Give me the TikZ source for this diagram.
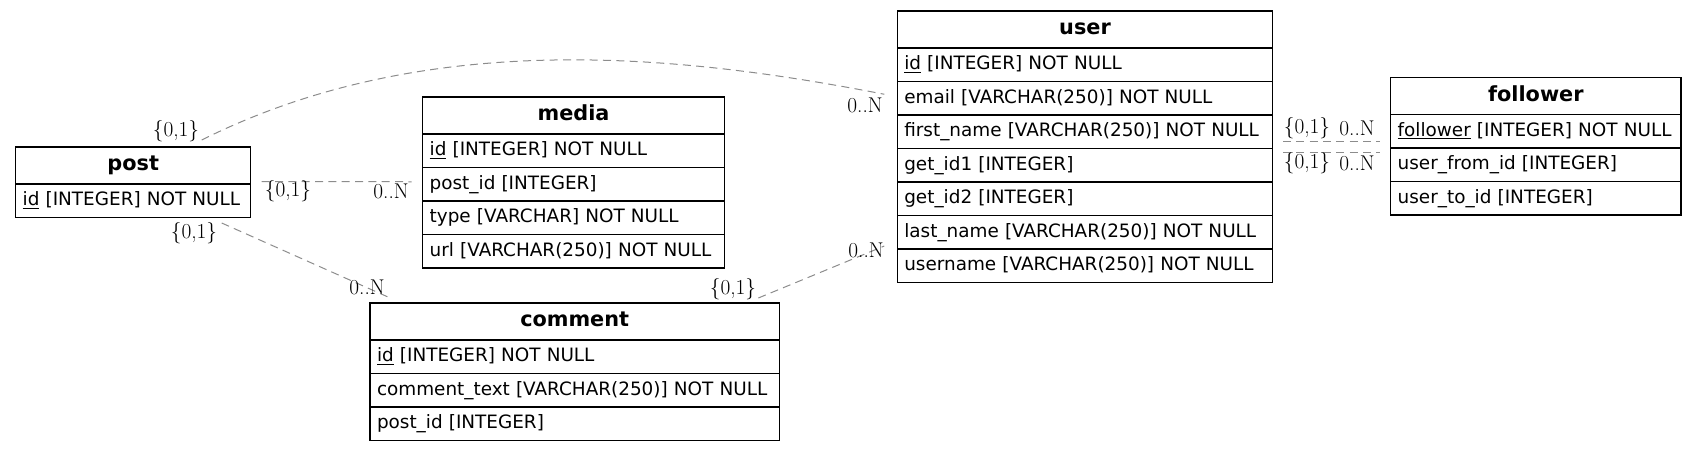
\documentclass[tikz,border=0pt]{standalone}
\usepackage{fontspec}
\newfontfamily\dv{DejaVu Sans}
\usetikzlibrary{calc}
\newcommand\cellt[1]{\mbox{#1}}
\begin{document}
\begin{tikzpicture}[x=0.75pt,y=-0.75pt,
  cell/.style={draw, line width=0.8pt, rectangle, anchor=north west, outer sep=0pt, inner xsep=5.25pt, inner ysep=0pt,
    font=\dv\fontsize{13.8}{16}\selectfont, text height=10.5pt, text depth=3pt},
  hdr/.style={cell, minimum height=27.75pt, align=center, font=\dv\bfseries\fontsize{15.6}{18}\selectfont, text height=11pt},
  fld/.style={cell, minimum height=25.125pt, align=left},
  rel/.style={draw=black!45, line width=0.75pt, dash pattern=on 6pt off 4pt},
  card/.style={font=\fontsize{16}{18}\selectfont, inner sep=0pt},
  wpost/.style={text width=165.75pt},
  wmedia/.style={text width=215.7pt},
  wcomment/.style={text width=296.5pt},
  wuser/.style={text width=271.05pt},
  wfollower/.style={text width=207.2pt}
]
\useasboundingbox (0,0) rectangle (1697,451);

% post
\node[hdr, wpost] (post-h) at (15.7,147) {post};
\node[fld, wpost] (post-1) at (post-h.south west) {\cellt{\underline{id} [INTEGER] NOT NULL}};

% media
\node[hdr, wmedia] (media-h) at (422.7,97) {media};
\node[fld, wmedia] (media-1) at (media-h.south west) {\cellt{\underline{id} [INTEGER] NOT NULL}};
\node[fld, wmedia] (media-2) at (media-1.south west) {\cellt{post\_id [INTEGER]}};
\node[fld, wmedia] (media-3) at (media-2.south west) {\cellt{type [VARCHAR] NOT NULL}};
\node[fld, wmedia] (media-4) at (media-3.south west) {\cellt{url [VARCHAR(250)] NOT NULL}};

% comment
\node[hdr, wcomment] (comment-h) at (370,303) {comment};
\node[fld, wcomment] (comment-1) at (comment-h.south west) {\cellt{\underline{id} [INTEGER] NOT NULL}};
\node[fld, wcomment] (comment-2) at (comment-1.south west) {\cellt{comment\_text [VARCHAR(250)] NOT NULL}};
\node[fld, wcomment] (comment-3) at (comment-2.south west) {\cellt{post\_id [INTEGER]}};

% user
\node[hdr, wuser] (user-h) at (897.3,11) {user};
\node[fld, wuser] (user-1) at (user-h.south west) {\cellt{\underline{id} [INTEGER] NOT NULL}};
\node[fld, wuser] (user-2) at (user-1.south west) {\cellt{email [VARCHAR(250)] NOT NULL}};
\node[fld, wuser] (user-3) at (user-2.south west) {\cellt{first\_name [VARCHAR(250)] NOT NULL}};
\node[fld, wuser] (user-4) at (user-3.south west) {\cellt{get\_id1 [INTEGER]}};
\node[fld, wuser] (user-5) at (user-4.south west) {\cellt{get\_id2 [INTEGER]}};
\node[fld, wuser] (user-6) at (user-5.south west) {\cellt{last\_name [VARCHAR(250)] NOT NULL}};
\node[fld, wuser] (user-7) at (user-6.south west) {\cellt{username [VARCHAR(250)] NOT NULL}};

% follower
\node[hdr, wfollower] (follower-h) at (1390.7,77.5) {follower};
\node[fld, wfollower] (follower-1) at (follower-h.south west) {\cellt{\underline{follower} [INTEGER] NOT NULL}};
\node[fld, wfollower] (follower-2) at (follower-1.south west) {\cellt{user\_from\_id [INTEGER]}};
\node[fld, wfollower] (follower-3) at (follower-2.south west) {\cellt{user\_to\_id [INTEGER]}};

% relations
\draw[rel] ($(post-h.north east)+(-49,-7)$) .. controls (428,27) and (682,55) .. ($(user-2.west)+(-13,-4)$);
\draw[rel] ($(post-h.south east)+(11,-2.5)$) -- ($(media-2.west)+(-11,-2.5)$);
\draw[rel] ($(post-1.south east)+(-29,5.5)$) -- ($(comment-h.north west)+(18,-6)$);
\draw[rel] ($(comment-h.north east)+(-21,-5)$) -- ($(user-7.north west)+(-13,-3)$);
\draw[rel] ($(user-3.south east)+(10.3,-7.5)$) -- ($(follower-1.south west)+(-10.7,-7)$);
\draw[rel] ($(user-4.north east)+(10.3,3.5)$) -- ($(follower-2.north west)+(-10.7,4)$);

% cardinalities
\node[card] (c1) at (176,131) {\{0,1\}};
\node[card] (c2) at (865,105) {0..N};
\node[card] (c3) at (288,191) {\{0,1\}};
\node[card] (c4) at (391,191) {0..N};
\node[card] (c5) at (194,233) {\{0,1\}};
\node[card] (c6) at (367,287) {0..N};
\node[card] (c7) at (733,289) {\{0,1\}};
\node[card] (c8) at (866,250) {0..N};
\node[card] (c9) at (1307,128) {\{0,1\}};
\node[card] (c10) at (1357,128) {0..N};
\node[card] (c11) at (1307,163) {\{0,1\}};
\node[card] (c12) at (1357,163) {0..N};
\end{tikzpicture}
\end{document}
